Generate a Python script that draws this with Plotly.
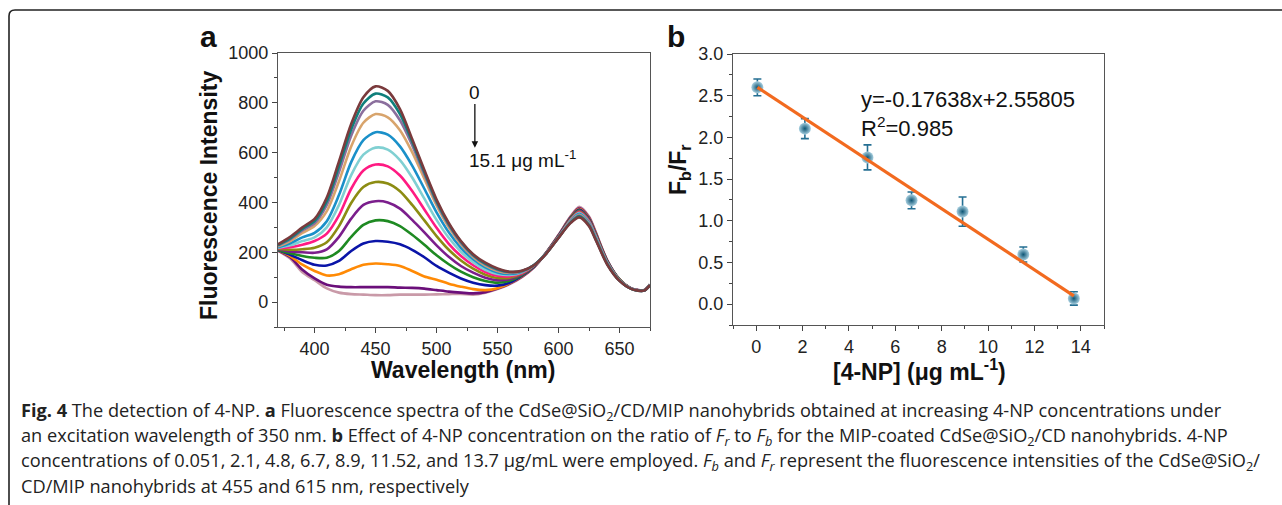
import numpy as np
import plotly.graph_objects as go

W, H = 1282, 505

# ---------------- Panel a data: fluorescence spectra ----------------
wavelength = [370, 380, 390, 400, 410, 420, 430, 440, 450, 460, 470, 480, 490, 500,
              510, 520, 530, 540, 550, 560, 570, 580, 590, 600, 610, 617, 625, 630,
              640, 650, 660, 670, 675]

spec_brown = [232, 262, 300, 334, 420, 565, 715, 822, 866, 848, 775, 655, 530, 412, 318, 245, 192, 158, 135, 122, 126, 148, 195, 258, 318, 340, 305, 255, 150, 85, 52, 46, 68]
spec_teal = [229, 256, 294, 325, 405, 545, 693, 797, 837, 822, 755, 645, 522, 405, 313, 242, 189, 154, 132, 121, 125, 149, 196, 259, 320, 344, 308, 258, 152, 86, 52, 46, 68]
spec_pgray = [227, 252, 288, 316, 390, 522, 668, 768, 806, 792, 730, 630, 512, 398, 308, 238, 186, 151, 129, 119, 125, 149, 196, 259, 322, 347, 311, 260, 153, 86, 53, 46, 68]
spec_tan = [224, 245, 278, 305, 365, 485, 625, 720, 755, 742, 690, 602, 495, 388, 300, 232, 181, 146, 125, 117, 124, 149, 196, 259, 324, 350, 314, 262, 154, 87, 53, 46, 69]
spec_blue = [220, 236, 260, 278, 325, 430, 562, 650, 682, 672, 625, 548, 455, 360, 280, 218, 172, 139, 119, 113, 122, 149, 196, 259, 326, 354, 318, 265, 156, 87, 53, 46, 69]
spec_cyan = [218, 228, 245, 260, 300, 390, 510, 592, 620, 612, 570, 500, 415, 330, 258, 202, 160, 130, 113, 109, 120, 148, 196, 260, 328, 357, 320, 268, 157, 88, 53, 47, 69]
spec_magenta = [216, 220, 230, 245, 275, 348, 455, 528, 552, 545, 508, 446, 372, 298, 234, 185, 148, 121, 106, 104, 117, 148, 197, 261, 330, 360, 323, 270, 158, 88, 53, 47, 69]
spec_olive = [214, 210, 212, 218, 240, 305, 398, 462, 482, 476, 445, 390, 328, 265, 210, 167, 134, 110, 97, 98, 114, 147, 197, 262, 332, 363, 326, 272, 160, 89, 53, 47, 69]
spec_purple = [212, 203, 200, 198, 212, 262, 335, 390, 405, 400, 375, 330, 280, 228, 182, 145, 118, 98, 88, 92, 111, 146, 198, 263, 334, 366, 329, 275, 161, 89, 54, 47, 70]
spec_green = [210, 196, 185, 178, 178, 205, 262, 310, 328, 325, 305, 270, 230, 188, 152, 122, 100, 85, 78, 86, 108, 145, 198, 264, 336, 369, 331, 277, 162, 90, 54, 47, 70]
spec_navy = [209, 190, 168, 150, 147, 165, 205, 235, 245, 242, 232, 210, 180, 145, 118, 95, 78, 68, 66, 78, 106, 143, 198, 265, 338, 372, 334, 279, 164, 90, 54, 47, 70]
spec_orange = [208, 185, 150, 125, 107, 112, 132, 150, 155, 152, 145, 125, 103, 90, 74, 62, 52, 48, 56, 76, 104, 142, 198, 266, 340, 375, 337, 282, 165, 91, 54, 47, 70]
spec_dpurple = [207, 180, 130, 95, 70, 62, 60, 60, 60, 60, 58, 57, 54, 48, 42, 38, 35, 40, 54, 74, 102, 141, 198, 268, 342, 378, 340, 284, 166, 91, 54, 48, 70]
spec_mauve = [206, 175, 120, 88, 55, 38, 32, 30, 28, 28, 30, 30, 30, 31, 32, 33, 30, 38, 52, 72, 100, 140, 200, 270, 345, 383, 344, 288, 168, 92, 55, 48, 71]

spectra = [spec_brown, spec_teal, spec_pgray, spec_tan, spec_blue, spec_cyan, spec_magenta,
           spec_olive, spec_purple, spec_green, spec_navy, spec_orange, spec_dpurple, spec_mauve]
spec_colors = ["#7a3a3c", "#0f7f7b", "#8b6f9d", "#d8a46c", "#1a90c9", "#80d0d2", "#ff1a82",
               "#8c8c12", "#7b1e8c", "#1e8a22", "#0a14a8", "#ff8a05", "#6b0f7a", "#c99aa8"]

# ---------------- Panel b data ----------------
conc = [0.051, 2.1, 4.8, 6.7, 8.9, 11.52, 13.7]
ratio = [2.60, 2.105, 1.76, 1.245, 1.11, 0.595, 0.068]
ratio_err = [0.10, 0.12, 0.15, 0.10, 0.175, 0.09, 0.08]
fit_slope = -0.1832
fit_intercept = 2.61

x_ticks_a = [400, 450, 500, 550, 600, 650]
y_ticks_a = [0, 200, 400, 600, 800, 1000]
x_ticks_b = [0, 2, 4, 6, 8, 10, 12, 14]
y_ticks_b = [0.0, 0.5, 1.0, 1.5, 2.0, 2.5, 3.0]


def px(x):
    return x / W


def py(y):
    return 1 - y / H


fig = go.Figure()

for idx in reversed(range(len(spectra))):
    fig.add_trace(go.Scatter(
        x=wavelength, y=spectra[idx], mode="lines",
        line=dict(color=spec_colors[idx], width=2.6, shape="spline", smoothing=0.8),
        xaxis="x", yaxis="y", showlegend=False, hoverinfo="skip"))

fit_x = np.array([min(conc), max(conc)])
fit_y = fit_slope * fit_x + fit_intercept
fig.add_trace(go.Scatter(
    x=conc, y=ratio, mode="markers",
    marker=dict(size=12, color="#a9d0e0", gradient=dict(type="radial", color="#0d5575"),
                line=dict(width=0)),
    error_y=dict(type="data", array=ratio_err, visible=True, color="#246f93", thickness=1.6, width=4),
    xaxis="x2", yaxis="y2", showlegend=False))
fig.add_trace(go.Scatter(
    x=fit_x, y=fit_y, mode="lines", line=dict(color="#f26a1f", width=3.2),
    xaxis="x2", yaxis="y2", showlegend=False))

tickfont = dict(family="Arial, Liberation Sans", size=18, color="#222")
axis_common = dict(showline=True, linecolor="#555", linewidth=1.4, mirror=True,
                   ticks="outside", ticklen=5, tickwidth=1.2, tickcolor="#444",
                   showgrid=False, zeroline=False, tickfont=tickfont, automargin=False)

fig.update_layout(
    width=W, height=H, margin=dict(l=0, r=0, t=0, b=0, pad=0, autoexpand=False),
    paper_bgcolor="white", plot_bgcolor="white",
    xaxis=dict(domain=[px(278), px(650)], range=[370, 675], tickvals=x_ticks_a,
               minor=dict(dtick=25, ticks="outside", ticklen=3, tickcolor="#444"),
               anchor="y", **axis_common),
    yaxis=dict(domain=[py(327), py(53)], range=[-100, 1000], tickvals=y_ticks_a,
               minor=dict(dtick=100, ticks="outside", ticklen=3, tickcolor="#444"),
               anchor="x", **axis_common),
    xaxis2=dict(domain=[px(733), px(1104)], range=[-1, 15], tickvals=x_ticks_b,
                minor=dict(dtick=1, ticks="outside", ticklen=3, tickcolor="#444"),
                anchor="y2", **axis_common),
    yaxis2=dict(domain=[py(325), py(54)], range=[-0.25, 3.0], tickvals=y_ticks_b,
                ticktext=[f"{v:.1f}" for v in y_ticks_b],
                minor=dict(dtick=0.25, ticks="outside", ticklen=3, tickcolor="#444"),
                anchor="x2", **axis_common),
)

bold = dict(family="Arial, Liberation Sans", size=23, color="#111")
ann = []
# Panel labels
ann.append(dict(x=px(208), y=py(37), text="<b>a</b>", font=dict(family="Arial, Liberation Sans", size=30, color="#111")))
ann.append(dict(x=px(676), y=py(37), text="<b>b</b>", font=dict(family="Arial, Liberation Sans", size=30, color="#111")))
# Axis titles
ann.append(dict(x=px(209), y=py(195), text="<b>Fluorescence Intensity</b>", textangle=-90, font=bold))
ann.append(dict(x=px(463), y=py(370), text="<b>Wavelength (nm)</b>", font=bold))
ann.append(dict(x=px(679), y=py(170), text="<b>F<sub>b</sub>/F<sub>r</sub></b>", textangle=-90, font=bold))
ann.append(dict(x=px(919), y=py(370), text="<b>[4-NP] (μg mL<sup>-1</sup>)</b>", font=bold))
for a in ann:
    a.update(xref="paper", yref="paper", showarrow=False, xanchor="center", yanchor="middle")

# Panel a concentration arrow and labels
ann.append(dict(x=531.4, y=620, ax=531.4, ay=801, xref="x", yref="y", axref="x", ayref="y",
                showarrow=True, arrowhead=2, arrowsize=1, arrowwidth=1.3, arrowcolor="#111", text=""))
ann.append(dict(x=531.4, y=842, xref="x", yref="y", text="0", showarrow=False,
                font=dict(family="Arial, Liberation Sans", size=19, color="#111")))
ann.append(dict(x=525, y=575, xref="x", yref="y", text="15.1 μg mL<sup>-1</sup>", showarrow=False,
                xanchor="left", font=dict(family="Arial, Liberation Sans", size=19, color="#111")))
# Panel b equation
ann.append(dict(x=4.45, y=2.46, xref="x2", yref="y2", text="y=-0.17638x+2.55805", showarrow=False,
                xanchor="left", font=dict(family="Arial, Liberation Sans", size=22, color="#111")))
ann.append(dict(x=4.45, y=2.12, xref="x2", yref="y2", text="R<sup>2</sup>=0.985", showarrow=False,
                xanchor="left", font=dict(family="Arial, Liberation Sans", size=22, color="#111")))

# Caption
cap_font = dict(family="Open Sans", size=18.2, color="#222")
caption_lines = [
    "<b>Fig. 4</b> The detection of 4-NP. <b>a</b> Fluorescence spectra of the CdSe@SiO<sub>2</sub>/CD/MIP nanohybrids obtained at increasing 4-NP concentrations under",
    "an excitation wavelength of 350 nm. <b>b</b> Effect of 4-NP concentration on the ratio of <i>F<sub>r</sub></i> to <i>F<sub>b</sub></i> for the MIP-coated CdSe@SiO<sub>2</sub>/CD nanohybrids. 4-NP",
    "concentrations of 0.051, 2.1, 4.8, 6.7, 8.9, 11.52, and 13.7 μg/mL were employed. <i>F<sub>b</sub></i> and <i>F<sub>r</sub></i> represent the fluorescence intensities of the CdSe@SiO<sub>2</sub>/",
    "CD/MIP nanohybrids at 455 and 615 nm, respectively",
]
caption_y = [411, 436, 461, 486]
for line, yy in zip(caption_lines, caption_y):
    ann.append(dict(x=px(19), y=py(yy), xref="paper", yref="paper", text=line, showarrow=False,
                    xanchor="left", yanchor="middle", font=cap_font))

fig.update_layout(annotations=ann)

# Figure frame with rounded top-left corner
path = (f"M {px(9)},{py(515)} L {px(9)},{py(16)} Q {px(9)},{py(10)} {px(15)},{py(10)} "
        f"L {px(1300)},{py(10)}")
fig.add_shape(type="path", path=path, xref="paper", yref="paper",
              line=dict(color="#222", width=1.6))

fig.write_html("out.html", config={"displayModeBar": False},
               post_script="document.documentElement.style.margin='0';document.body.style.margin='0';"
                           "document.body.style.overflow='hidden';")
